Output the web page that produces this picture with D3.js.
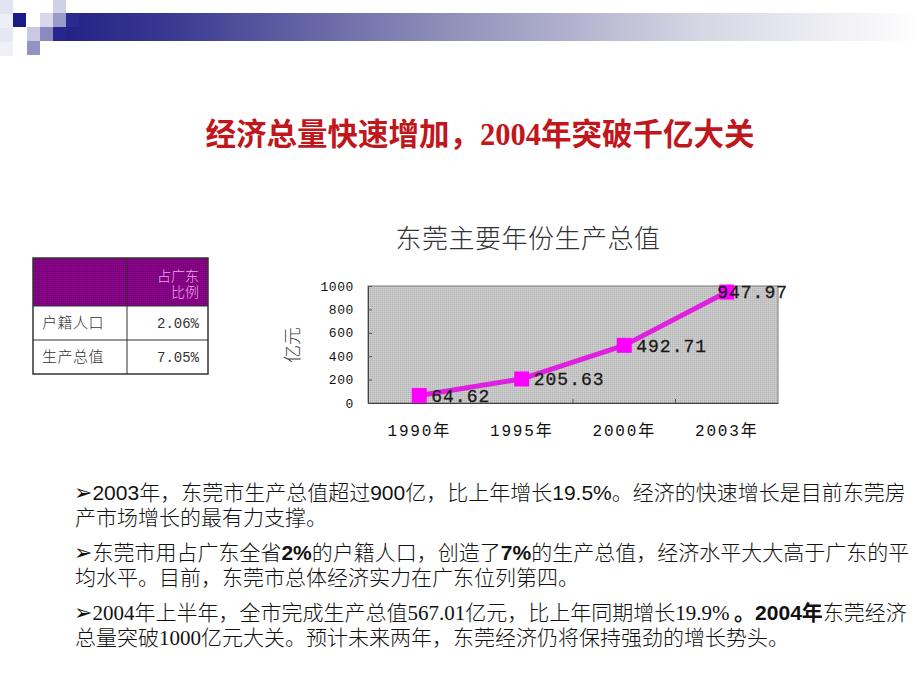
<!DOCTYPE html>
<html><head><meta charset="utf-8">
<script src="https://cdn.jsdelivr.net/npm/d3@7/dist/d3.min.js"></script>
<style>body{margin:0;background:#fff;} svg{display:block;}</style>
</head><body>
<svg id="c" width="920" height="690"></svg>
<script>
// ---- data ----
const categories = ["1990年", "1995年", "2000年", "2003年"];
const gdpValues = [64.62, 205.63, 492.71, 947.97];
const yTickValues = [0, 200, 400, 600, 800, 1000];
const yDomain = [0, 1000];
const tableHeader = ["占广东", "比例"];
const tableRows = ["户籍人口", "生产总值"];
const tableShares = ["2.06%", "7.05%"];
const pageTitleParts = ["经济总量快速增加，", "2004", "年突破千亿大关"];
const chartTitle = "东莞主要年份生产总值";
const yAxisTitle = "亿元";
const noteParagraphs = [
  ["2003年，东莞市生产总值超过900亿，比上年增长19.5%。经济的快速增长是目前东莞房", "产市场增长的最有力支撑。"],
  ["东莞市用占广东全省2%的户籍人口，创造了7%的生产总值，经济水平大大高于广东的平", "均水平。目前，东莞市总体经济实力在广东位列第四。"],
  ["2004年上半年，全市完成生产总值567.01亿元，比上年同期增长19.9% *。2004年*东莞经济", "总量突破1000亿元大关。预计未来两年，东莞经济仍将保持强劲的增长势头。"]
];

// ---- layout / style ----
const svg = d3.select("#c");
const CJK = "'Noto Sans CJK SC', sans-serif";
const defs = svg.append("defs");

const grad = defs.append("linearGradient").attr("id", "barGrad");
[[0, "#1d1d82"], [0.15, "#3a3a92"], [0.45, "#8c8cb8"], [0.75, "#d6d6e4"], [1, "#ffffff"]]
  .forEach(([o, c]) => grad.append("stop").attr("offset", o).attr("stop-color", c));

const pg = defs.append("pattern").attr("id", "stipple").attr("width", 2).attr("height", 2).attr("patternUnits", "userSpaceOnUse");
pg.append("rect").attr("width", 2).attr("height", 2).attr("fill", "#c7c7c7");
pg.append("rect").attr("width", 1).attr("height", 1).attr("fill", "#b2b2b2");
pg.append("rect").attr("x", 1).attr("y", 1).attr("width", 1).attr("height", 1).attr("fill", "#cfcfcf");

const pp = defs.append("pattern").attr("id", "purple").attr("width", 2).attr("height", 2).attr("patternUnits", "userSpaceOnUse");
pp.append("rect").attr("width", 2).attr("height", 2).attr("fill", "#7e007e");
pp.append("rect").attr("width", 1).attr("height", 1).attr("fill", "#8c0a8c");

// header decoration
svg.append("rect").attr("x", 40).attr("y", 13).attr("width", 880).attr("height", 28).attr("fill", "url(#barGrad)");
const squares = [
  [0, 0, "#e2e2f2"], [0, 14, "#eeeef8"], [0, 28, "#e6e6f4"], [0, 42, "#f0f0f8"],
  [13, 13, "#1a1a8a"], [27, 27, "#c9c9e2"], [27, 41, "#9494c4"], [53, 0, "#d0d0e8"],
  [40, 13, "#d8d8ec"], [53, 13, "#9a9ac8"], [40, 27, "#8a8ac0"], [53, 27, "#26268e"], [66, 13, "#2a2a90"]
];
svg.selectAll("rect.sq").data(squares).enter().append("rect").attr("class", "sq")
  .attr("x", d => d[0]).attr("y", d => d[1]).attr("width", 13).attr("height", 14).attr("fill", d => d[2]);

// page title
const pt = svg.append("text").attr("x", 480).attr("y", 145).attr("text-anchor", "middle")
  .attr("font-size", 30.5).attr("font-weight", "bold").attr("fill", "#c0161c").attr("font-family", CJK);
pageTitleParts.forEach((s, i) => pt.append("tspan").text(s)
  .attr("font-family", /^[0-9]+$/.test(s) ? "'Liberation Serif', serif" : CJK));

// chart
const plot = {left: 368, right: 778, top: 286, bottom: 403};
const x = d3.scaleBand().domain(categories).range([plot.left, plot.right]);
const y = d3.scaleLinear().domain(yDomain).range([plot.bottom, plot.top]);

svg.append("text").attr("x", 528).attr("y", 248).attr("text-anchor", "middle")
  .attr("font-family", CJK).attr("font-weight", 300).attr("font-size", 26).attr("fill", "#333")
  .attr("letter-spacing", 0.5).text(chartTitle);

svg.append("rect").attr("x", plot.left).attr("y", plot.top).attr("width", plot.right - plot.left)
  .attr("height", plot.bottom - plot.top).attr("fill", "url(#stipple)").attr("stroke", "#7a7a7a").attr("stroke-width", 1);

const yAxis = svg.append("g").attr("transform", `translate(${plot.left},0)`)
  .call(d3.axisLeft(y).tickValues(yTickValues).tickSize(-4).tickPadding(14).tickFormat(d3.format("d")));
yAxis.select(".domain").attr("stroke", "#444");
yAxis.selectAll(".tick line").attr("stroke", "#555");
yAxis.selectAll("text").attr("font-family", "'Liberation Mono', monospace").attr("font-size", 13)
  .attr("letter-spacing", 0.6).attr("fill", "#111");

const xAxis = svg.append("g").attr("transform", `translate(0,${plot.bottom})`)
  .call(d3.axisBottom(x).tickSize(0).tickPadding(22));
xAxis.select(".domain").attr("stroke", "#444");
xAxis.selectAll("text").attr("font-family", "'Liberation Mono', 'Noto Sans CJK SC', monospace")
  .attr("font-size", 16).attr("letter-spacing", 1.8).attr("fill", "#111");
svg.selectAll("line.btick").data(categories.slice(1)).enter().append("line").attr("class", "btick")
  .attr("x1", d => x(d)).attr("x2", d => x(d)).attr("y1", plot.bottom).attr("y2", plot.bottom - 4)
  .attr("stroke", "#555");

svg.append("text").attr("transform", `translate(299,345) rotate(-90)`).attr("text-anchor", "middle")
  .attr("font-family", CJK).attr("font-weight", 300).attr("font-size", 18).attr("fill", "#444").text(yAxisTitle);

const pts = categories.map((c, i) => ({c, v: gdpValues[i], px: x(c) + x.bandwidth() / 2, py: y(gdpValues[i])}));
svg.append("path").datum(pts).attr("fill", "none").attr("stroke", "#df20df").attr("stroke-width", 5)
  .attr("stroke-linejoin", "round")
  .attr("d", d3.line().x(d => d.px).y(d => d.py));
const ms = 15;
svg.selectAll("rect.mk").data(pts).enter().append("rect").attr("class", "mk")
  .attr("x", d => d.px - ms / 2).attr("y", d => d.py - ms / 2).attr("width", ms).attr("height", ms)
  .attr("fill", "#ff00ff");
svg.selectAll("text.dl").data(pts).enter().append("text").attr("class", "dl")
  .attr("y", d => d.py).attr("dy", "0.35em")
  .attr("font-family", "'Liberation Mono', monospace").attr("font-size", 18).attr("letter-spacing", 1)
  .attr("fill", "#1a1a1a").attr("stroke", "#1a1a1a").attr("stroke-width", 0.3).text(d => d.v.toFixed(2))
  .attr("x", function(d) {
    const w = this.getComputedTextLength();
    return Math.min(d.px + 12, plot.right + 10 - w);
  });

// table
const tb = {x: 33, y: 258, w: 175, col: 127, hh: 48, rh: 34};
svg.append("rect").attr("x", tb.x).attr("y", tb.y).attr("width", tb.w).attr("height", tb.hh).attr("fill", "url(#purple)");
const tRight = tb.x + tb.w - 9;
const th = svg.append("text").attr("text-anchor", "end").attr("font-family", CJK).attr("font-weight", 300)
  .attr("font-size", 14).attr("fill", "#f2a6f2");
tableHeader.forEach((d, i) => th.append("tspan").attr("x", tRight).attr("y", tb.y + 23 + i * 16).text(d));
tableRows.forEach((r, i) => {
  const cy = tb.y + tb.hh + tb.rh * i + tb.rh / 2;
  svg.append("text").attr("x", tb.x + 9).attr("y", cy).attr("dy", "0.35em").attr("font-family", CJK)
    .attr("font-weight", 300).attr("font-size", 15).attr("fill", "#333").attr("letter-spacing", 0.5).text(r);
  svg.append("text").attr("x", tRight).attr("y", cy).attr("dy", "0.35em").attr("text-anchor", "end")
    .attr("font-family", "'Liberation Mono', monospace").attr("font-size", 14).attr("fill", "#333").text(tableShares[i]);
});
const tH = tb.hh + tb.rh * tableRows.length;
const tg = svg.append("g").attr("stroke", "#333").attr("fill", "none");
tg.append("rect").attr("x", tb.x).attr("y", tb.y).attr("width", tb.w).attr("height", tH).attr("stroke-width", 1.5);
tg.append("line").attr("x1", tb.col).attr("x2", tb.col).attr("y1", tb.y).attr("y2", tb.y + tH);
tableRows.forEach((r, i) => tg.append("line").attr("x1", tb.x).attr("x2", tb.x + tb.w)
  .attr("y1", tb.y + tb.hh + tb.rh * i).attr("y2", tb.y + tb.hh + tb.rh * i));

// notes
const digitFonts = [
  {family: "'Liberation Sans', sans-serif", weight: "normal"},
  {family: "'Liberation Sans', sans-serif", weight: "bold"},
  {family: "'Liberation Serif', serif", weight: "normal"}
];
const noteFs = 21;
noteParagraphs.forEach((para, p) => {
  const t = svg.append("text").attr("font-size", noteFs).attr("fill", "#111").attr("font-family", CJK);
  para.forEach((line, l) => {
    const ty = 500 + p * 60 + l * 25;
    const lt = t.append("tspan").attr("x", 75).attr("y", ty);
    if (l === 0) lt.append("tspan").text("➢").attr("font-family", "'DejaVu Sans'").attr("font-size", 22)
      .attr("dx", -1);
    line.split("*").forEach((chunk, ci) => {
      const bold = ci % 2 === 1;
      const runs = chunk.match(/[0-9.%]+|[^0-9.%]+/g) || [];
      runs.forEach(run => {
        const ts = lt.append("tspan").text(run);
        if (/^[0-9.%]+$/.test(run)) {
          const f = bold ? digitFonts[1] : digitFonts[p];
          ts.attr("font-family", f.family).attr("font-weight", f.weight);
        } else {
          ts.attr("font-family", CJK).attr("font-weight", bold ? "bold" : 300);
        }
      });
    });
  });
});
</script>
</body></html>
